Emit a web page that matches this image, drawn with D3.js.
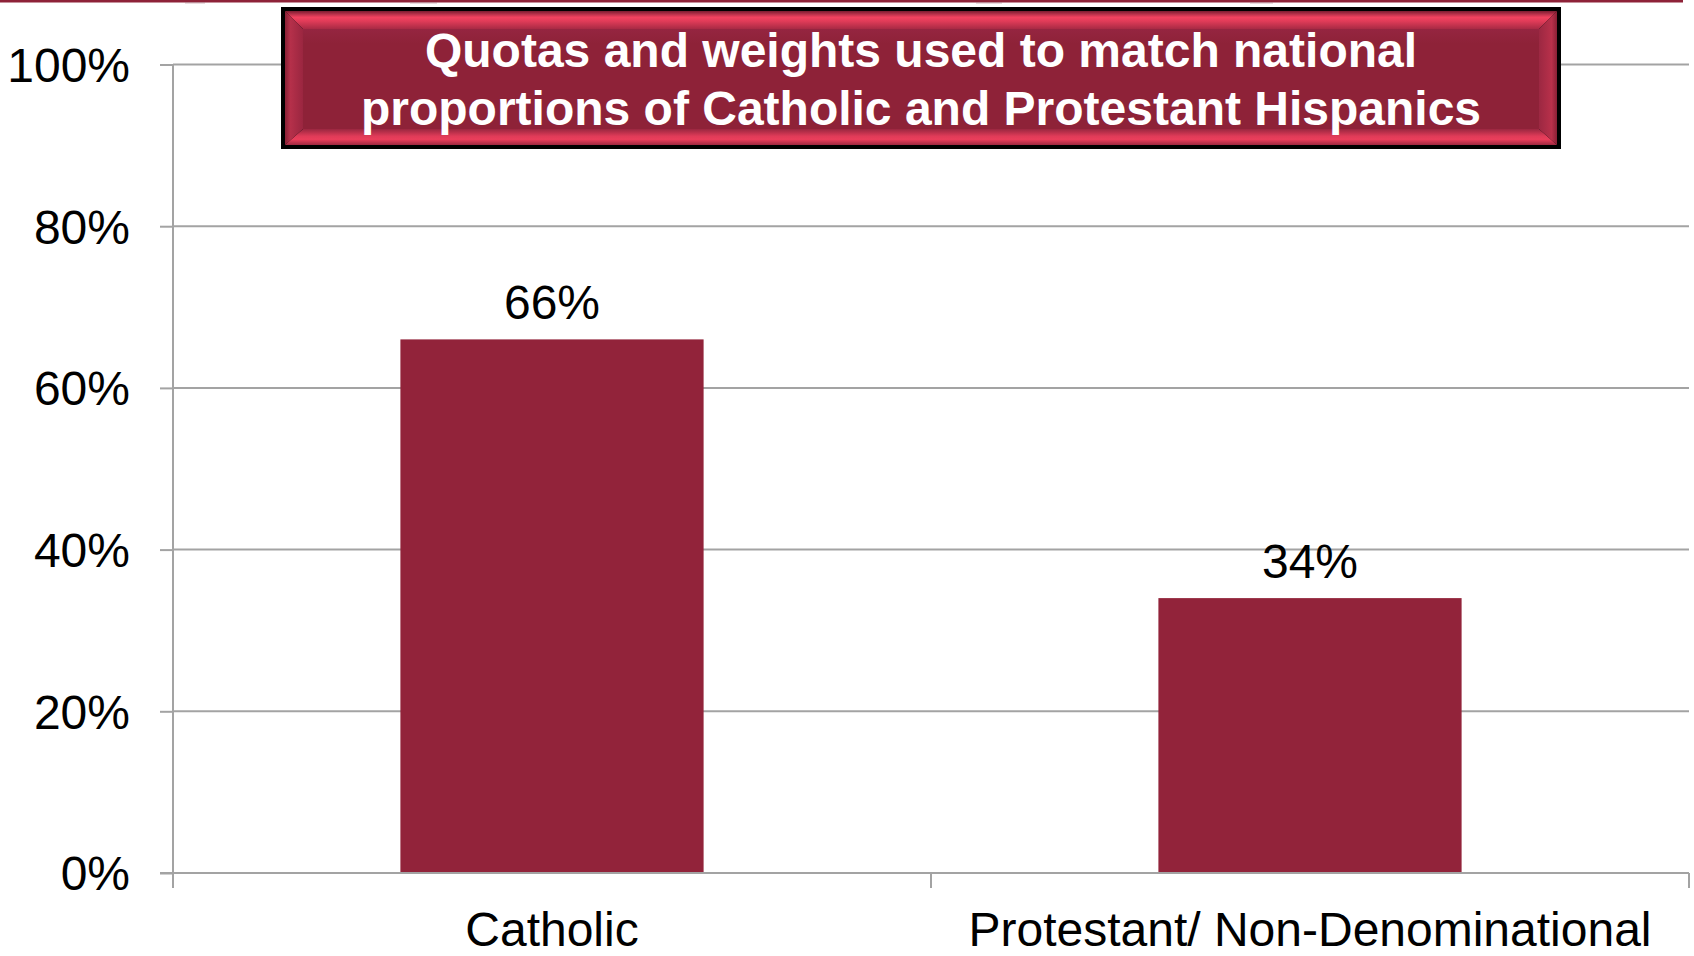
<!DOCTYPE html>
<html>
<head>
<meta charset="utf-8">
<script src="https://cdn.jsdelivr.net/npm/d3@7/dist/d3.min.js"></script>
<style>
  html, body { margin: 0; padding: 0; background: #ffffff; }
  svg { display: block; font-family: "Liberation Sans", Arial, sans-serif; }
</style>
</head>
<body>
<svg id="chart" width="1694" height="956"></svg>
<script>
// ---- data ----
const categories = ["Catholic", "Protestant/ Non-Denominational"];
const values = [0.66, 0.34];
const valueLabels = ["66%", "34%"];
const yTicks = [0, 0.2, 0.4, 0.6, 0.8, 1.0];
const yTickLabels = ["0%", "20%", "40%", "60%", "80%", "100%"];
const titleLines = ["Quotas and weights used to match national",
                    "proportions of Catholic and Protestant Hispanics"];

// ---- layout ----
const W = 1694, H = 956;
const plot = { left: 173, right: 1689, top: 64.5, bottom: 873 };
const barColor = "#92233a";
const gridColor = "#a3a3a3";

const svg = d3.select("#chart");

const y = d3.scaleLinear().domain([0, 1]).range([plot.bottom, plot.top]);
const x = d3.scaleBand().domain(categories).range([plot.left, plot.right])
  .paddingInner(0.6).paddingOuter(0.3);

// top decorative strip
svg.append("rect").attr("x", 0).attr("y", 0).attr("width", 1683).attr("height", 2.5).attr("fill", "#8e2238");
[[185, 20], [410, 27], [976, 26], [1250, 23]].forEach(([bx, bw]) => {
  svg.append("rect").attr("x", bx).attr("y", 2).attr("width", bw).attr("height", 1.3)
    .attr("fill", "#b98a95");
});

// gridlines
svg.append("g").selectAll("line").data(yTicks.filter(d => d > 0)).join("line")
  .attr("x1", plot.left).attr("x2", plot.right)
  .attr("y1", d => y(d)).attr("y2", d => y(d))
  .attr("stroke", gridColor).attr("stroke-width", 2);

// y axis
const yAxis = d3.axisLeft(y).tickValues(yTicks)
  .tickFormat((d, i) => yTickLabels[i]).tickSize(13).tickSizeOuter(0).tickPadding(30);
const gy = svg.append("g").attr("transform", `translate(${plot.left},0)`).call(yAxis);
gy.select(".domain").remove();
gy.selectAll(".tick line").attr("stroke", gridColor).attr("stroke-width", 2);
gy.selectAll(".tick text").attr("font-size", 48).attr("fill", "#000")
  .attr("font-family", "'Liberation Sans', Arial, sans-serif").attr("dy", "0.35em");

// bars
svg.append("g").selectAll("rect").data(categories).join("rect")
  .attr("x", d => x(d)).attr("width", x.bandwidth())
  .attr("y", (d, i) => y(values[i]))
  .attr("height", (d, i) => y(0) - y(values[i]))
  .attr("fill", barColor);

// y axis line (vertical) extending slightly below baseline
svg.append("line").attr("x1", plot.left).attr("x2", plot.left)
  .attr("y1", plot.top).attr("y2", plot.bottom + 15)
  .attr("stroke", gridColor).attr("stroke-width", 2);

// x axis baseline
svg.append("line").attr("x1", plot.left - 13).attr("x2", plot.right)
  .attr("y1", y(0)).attr("y2", y(0))
  .attr("stroke", gridColor).attr("stroke-width", 2);

// category boundary ticks
const bounds = d3.range(categories.length + 1).map(i => x.range()[0] + i * x.step());
svg.append("g").selectAll("line").data(bounds).join("line")
  .attr("x1", d => d).attr("x2", d => d)
  .attr("y1", y(0)).attr("y2", y(0) + 15)
  .attr("stroke", gridColor).attr("stroke-width", 2);

// category labels
svg.append("g").selectAll("text").data(categories).join("text")
  .attr("x", d => x(d) + x.bandwidth() / 2).attr("y", 946)
  .attr("text-anchor", "middle").attr("font-size", 48).attr("fill", "#000")
  .text(d => d);

// value labels
svg.append("g").selectAll("text").data(categories).join("text")
  .attr("x", d => x(d) + x.bandwidth() / 2)
  .attr("y", (d, i) => y(values[i]) - 20)
  .attr("text-anchor", "middle").attr("font-size", 48).attr("fill", "#000")
  .text((d, i) => valueLabels[i]);

// ---- title box (bevelled) ----
const bx0 = 281, bx1 = 1561, by0 = 7, by1 = 149;
const b = 4;        // black border
const bv = 18;      // bevel width
const defs = svg.append("defs");
function lg(id, x1, y1, x2, y2, stops) {
  const g = defs.append("linearGradient").attr("id", id)
    .attr("x1", x1).attr("y1", y1).attr("x2", x2).attr("y2", y2);
  stops.forEach(([o, c]) => g.append("stop").attr("offset", o).attr("stop-color", c));
}
lg("gTop", 0, 0, 0, 1, [[0, "#7a1c30"], [0.2, "#c0334d"], [0.35, "#f2425f"], [0.55, "#e23c59"], [1, "#a82a44"]]);
lg("gBot", 0, 0, 0, 1, [[0, "#9a2740"], [0.45, "#e03b58"], [0.65, "#ea3e5b"], [1, "#9e2840"]]);
lg("gLeft", 0, 0, 1, 0, [[0, "#8a2035"], [0.3, "#b5304a"], [1, "#9a2640"]]);
lg("gRight", 0, 0, 1, 0, [[0, "#9c2842"], [0.7, "#b8304a"], [1, "#8a2035"]]);
lg("gFace", 0, 0, 0, 1, [[0, "#952540"], [0.15, "#8e2238"], [1, "#8e2238"]]);

const tb = svg.append("g");
tb.append("rect").attr("x", bx0).attr("y", by0).attr("width", bx1 - bx0).attr("height", by1 - by0)
  .attr("fill", "#000");
const ix0 = bx0 + b, ix1 = bx1 - b, iy0 = by0 + b, iy1 = by1 - b;
const fx0 = ix0 + bv, fx1 = ix1 - bv, fy0 = iy0 + bv, fy1 = iy1 - 16;
tb.append("rect").attr("x", fx0).attr("y", fy0)
  .attr("width", fx1 - fx0).attr("height", fy1 - fy0)
  .attr("fill", "url(#gFace)");
const poly = (pts, fill) => tb.append("polygon")
  .attr("points", pts.map(p => p.join(",")).join(" ")).attr("fill", fill);
poly([[ix0, iy0], [ix1, iy0], [fx1, fy0], [fx0, fy0]], "url(#gTop)");
poly([[fx0, fy1], [fx1, fy1], [ix1, iy1], [ix0, iy1]], "url(#gBot)");
poly([[ix0, iy0], [fx0, fy0], [fx0, fy1], [ix0, iy1]], "url(#gLeft)");
poly([[fx1, fy0], [ix1, iy0], [ix1, iy1], [fx1, fy1]], "url(#gRight)");

tb.selectAll("text.title").data(titleLines).join("text")
  .attr("class", "title")
  .attr("x", (bx0 + bx1) / 2).attr("y", (d, i) => 67 + i * 58)
  .attr("text-anchor", "middle").attr("font-size", 48).attr("font-weight", "bold")
  .attr("fill", "#ffffff").text(d => d);
</script>
</body>
</html>
